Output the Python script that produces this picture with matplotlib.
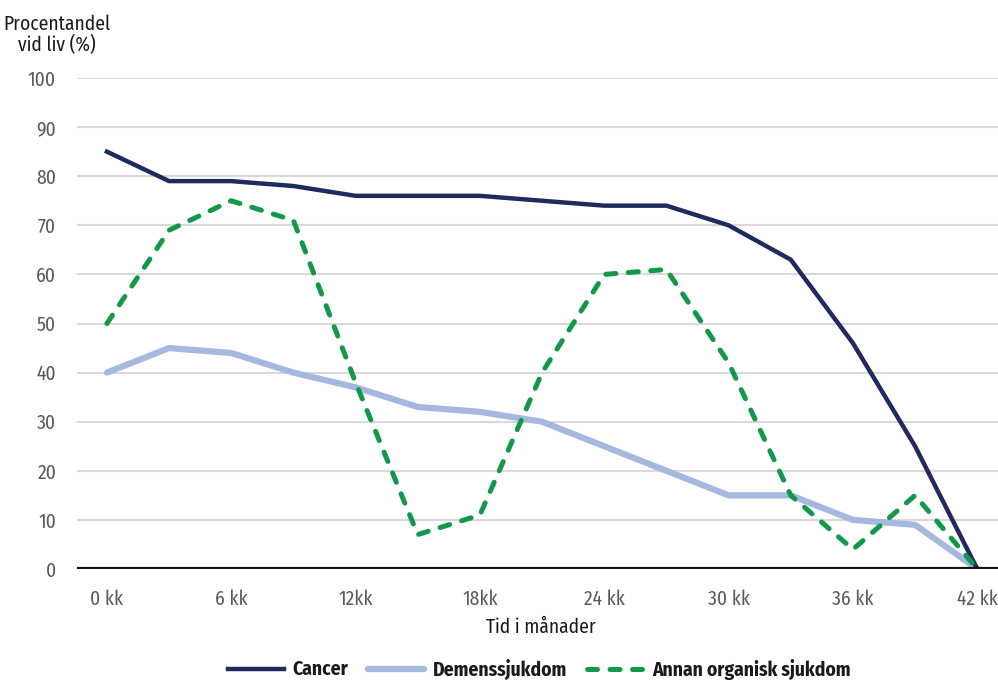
import matplotlib
matplotlib.use("Agg")
import matplotlib.pyplot as plt

months = [0, 3, 6, 9, 12, 15, 18, 21, 24, 27, 30, 33, 36, 39, 42]
cancer = [85, 79, 79, 78, 76, 76, 76, 75, 74, 74, 70, 63, 46, 25, 0]
demens = [40, 45, 44, 40, 37, 33, 32, 30, 25, 20, 15, 15, 10, 9, 0]
annan = [50, 69, 75, 71, 38, 7, 11, 40, 60, 61, 42, 15, 4, 15, 0]
xtick_pos = [0, 6, 12, 18, 24, 30, 36, 42]
xtick_labels = ["0 kk", "6 kk", "12kk", "18kk", "24 kk", "30 kk", "36 kk", "42 kk"]
yticks = [0, 10, 20, 30, 40, 50, 60, 70, 80, 90, 100]

plt.rcParams['font.family'] = ['Fira Sans Condensed', 'DejaVu Sans']

fig = plt.figure(figsize=(9.98, 6.8), dpi=100)
ax = fig.add_axes([0.077, 1 - 569 / 680, 1 - 0.077, (569 - 78) / 680])

grid_c = "#d9d9d9"
for y in yticks[1:]:
    ax.axhline(y, color=grid_c, lw=1.5, zorder=0)

ax.plot(months, cancer, color="#1f2a5e", lw=3.2, label="Cancer", zorder=3)
ax.plot(months, demens, color="#a6b7e0", lw=4.5, label="Demenssjukdom", zorder=2,
        solid_capstyle="round")
ax.plot(months, annan, color="#13984b", lw=3.6, ls=(0, (2.0, 2.5)), label="Annan organisk sjukdom",
        zorder=4, dash_capstyle="round")
ax.axhline(0, color="#111111", lw=3, zorder=5)

ax.set_xlim(-1.45, 43.0)
ax.set_ylim(0, 100)
ax.set_xticks(xtick_pos)
ax.set_xticklabels(xtick_labels)
ax.set_yticks(yticks)
for s in ax.spines.values():
    s.set_visible(False)
ax.tick_params(axis="both", length=0, labelsize=14, colors="#595959")
ax.tick_params(axis="x", pad=15)
ax.tick_params(axis="y", pad=15)

fig.text(57 / 998, 1 - 35 / 680, "Procentandel\nvid liv (%)", ha="center", va="center",
         fontsize=14, color="#1a1a1a", linespacing=1.05)
fig.text(541 / 998, 1 - 627 / 680, "Tid i månader", ha="center", va="center",
         fontsize=14, color="#1a1a1a")

leg = fig.legend(loc="center", bbox_to_anchor=(539 / 998, 1 - 669 / 680), ncol=3, frameon=False,
                 handlelength=2.9, columnspacing=1.0, handletextpad=0.45,
                 prop={"weight": "bold", "size": 14, "family": ["Fira Sans Condensed", "DejaVu Sans"]})
for t in leg.get_texts():
    t.set_color("#1a1a1a")

fig.savefig("out.png", dpi=100)
